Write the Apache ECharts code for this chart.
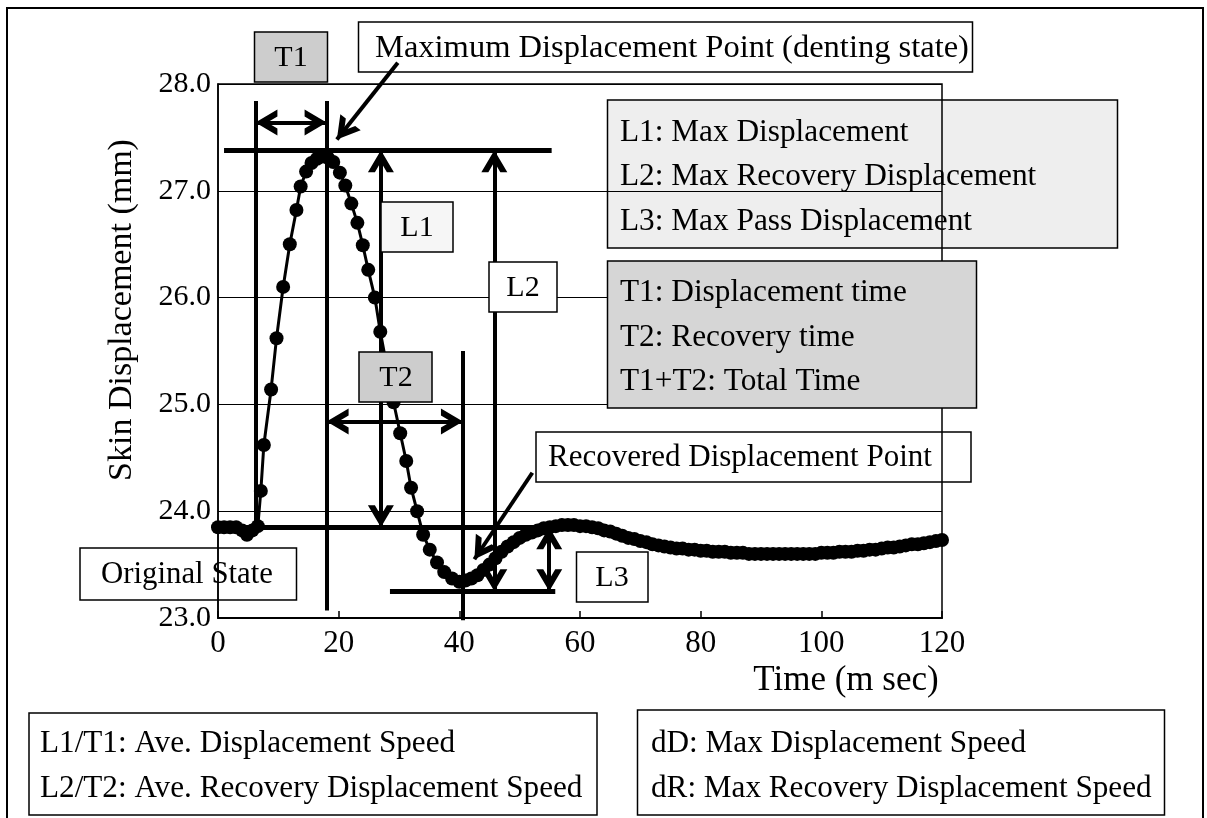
<!DOCTYPE html>
<html>
<head>
<meta charset="utf-8">
<script src="https://cdn.jsdelivr.net/npm/echarts@6/dist/echarts.min.js"></script>
<style>
html,body{margin:0;padding:0;background:#fff;}
#chart{width:1207px;height:818px;}
</style>
</head>
<body>
<div id="chart"></div>
<script>
// ---- data ----
const timeMs = [0, 1, 2, 3, 4, 4.8, 5.7, 6.6, 7.1, 7.6, 8.8, 9.7, 10.8, 11.9, 13.0, 13.7, 14.6, 15.5, 16.4, 17.3, 18.2,
  19.1, 20.2, 21.1, 22.1, 23.1, 24.0, 24.9, 26.0, 26.9, 28.0, 29.1, 30.2, 31.2, 32.0, 33.0, 34.0, 35.1, 36.3, 37.5, 38.8, 40.0,
  41, 42, 43, 44, 45, 46, 47, 48, 49, 50, 51, 52, 53, 54, 55, 56, 57, 58, 59, 60,
  61, 62, 63, 64, 65, 66, 67, 68, 69, 70, 71, 72, 73, 74, 75, 76, 77, 78, 79, 80,
  81, 82, 83, 84, 85, 86, 87, 88, 89, 90, 91, 92, 93, 94, 95, 96, 97, 98, 99, 100,
  101, 102, 103, 104, 105, 106, 107, 108, 109, 110, 111, 112, 113, 114, 115, 116, 117, 118, 119, 120];
const dispMm = [23.85, 23.85, 23.85, 23.85, 23.82, 23.78, 23.82, 23.86, 24.19, 24.62, 25.14, 25.62, 26.10, 26.50, 26.82, 27.04, 27.18, 27.26, 27.30, 27.32, 27.31,
  27.27, 27.17, 27.05, 26.88, 26.70, 26.49, 26.26, 26.00, 25.68, 25.35, 25.02, 24.73, 24.47, 24.22, 24.00, 23.78, 23.64, 23.52, 23.43, 23.37, 23.34,
  23.35, 23.37, 23.40, 23.45, 23.50, 23.56, 23.62, 23.67, 23.71, 23.75, 23.78, 23.80, 23.82, 23.84, 23.85, 23.86, 23.87, 23.87, 23.87, 23.86,
  23.86, 23.85, 23.84, 23.82, 23.81, 23.79, 23.77, 23.75, 23.74, 23.72, 23.71, 23.69, 23.68, 23.67, 23.66, 23.65, 23.65, 23.64, 23.64, 23.63,
  23.63, 23.62, 23.62, 23.62, 23.61, 23.61, 23.61, 23.60, 23.60, 23.60, 23.60, 23.60, 23.60, 23.60, 23.60, 23.60, 23.60, 23.60, 23.60, 23.61,
  23.61, 23.61, 23.62, 23.62, 23.62, 23.63, 23.63, 23.64, 23.64, 23.65, 23.66, 23.66, 23.67, 23.68, 23.69, 23.69, 23.70, 23.71, 23.72, 23.73];

const xTicks = [0, 20, 40, 60, 80, 100, 120];
const yTicks = [23, 24, 25, 26, 27, 28];

// annotation levels (mm) and times (ms)
const maxLevel = 27.38, baseLevel = 23.85, passLevel = 23.25;
const tStart = 6.2, tPeak = 18.0, tRecover = 40.6;
const l1Time = 27.0, l2Time = 45.8, l3Time = 54.9;
const t1ArrowLevel = 27.64, t2ArrowLevel = 24.84;
const markerTop = 27.84, peakLineBottom = 23.07, recoverLineTop = 25.5, recoverLineBottom = 22.98;
const maxLineSpan = [1.0, 55.3], baseLineSpan = [0, 55.5], passLineSpan = [28.5, 55.9];
const maxPointer = [[29.8, 28.2], [19.7, 27.48]];
const recoverPointer = [[52.1, 24.36], [42.5, 23.55]];

// ---- build ----
const FONT = '"Liberation Serif", "Times New Roman", Times, serif';
const chevron = 'path://M13,-22L13,-22M0,22L13,0L26,22L19,22L13,11.8L7,22Z';
const AS = [26, 44];
function seg(a, b, w, arrows) {
  const s = arrows || ['none', 'none'];
  return {
    coords: [a, b],
    symbol: [s[0] === 'a' ? chevron : 'none', s[1] === 'a' ? chevron : 'none'],
    symbolSize: [AS, AS],
    lineStyle: { width: w, color: '#000', opacity: 1 }
  };
}
const annoLines = [
  seg([maxLineSpan[0], maxLevel], [maxLineSpan[1], maxLevel], 5),
  seg([baseLineSpan[0], baseLevel], [baseLineSpan[1], baseLevel], 5),
  seg([passLineSpan[0], passLevel], [passLineSpan[1], passLevel], 5),
  seg([tStart, markerTop], [tStart, baseLevel], 4),
  seg([tPeak, markerTop], [tPeak, peakLineBottom], 4),
  seg([tRecover, recoverLineTop], [tRecover, recoverLineBottom], 4),
  seg([tStart, t1ArrowLevel], [tPeak, t1ArrowLevel], 4, ['a', 'a']),
  seg([tPeak, t2ArrowLevel], [tRecover, t2ArrowLevel], 4, ['a', 'a']),
  seg([l1Time, maxLevel], [l1Time, baseLevel], 4, ['a', 'a']),
  seg([l2Time, maxLevel], [l2Time, passLevel], 4, ['a', 'a']),
  seg([l3Time, baseLevel], [l3Time, passLevel], 4, ['a', 'a']),
  seg(maxPointer[0], maxPointer[1], 4, ['n', 'a']),
  seg(recoverPointer[0], recoverPointer[1], 4, ['n', 'a'])
];

function box(x, y, w, h, fill, z) {
  return { type: 'rect', z: z, shape: { x: x, y: y, width: w, height: h },
    style: { fill: fill, stroke: '#000', lineWidth: 1.5 } };
}
function txt(x, y, s, align, size, z, rot) {
  const el = { type: 'text', z: z, x: x, y: y,
    style: { text: s, fill: '#000', fontFamily: FONT, fontSize: size || 31, align: align || 'left', verticalAlign: 'middle' } };
  if (rot) el.rotation = rot;
  return el;
}

const graphics = [
  { type: 'rect', z: -5, shape: { x: 7, y: 8, width: 1196, height: 812 }, style: { fill: 'none', stroke: '#000', lineWidth: 2 } },
  // y axis title
  txt(122, 310, 'Skin Displacement (mm)', 'center', 34, 5, Math.PI / 2),
  // T1 box
  box(254.5, 32, 73, 50, '#cdcdcd', 100), txt(291, 58, 'T1', 'center', 30, 101),
  // Max displacement box
  box(358.5, 22, 614, 50, '#fff', -1), txt(375, 48, 'Maximum Displacement Point (denting state)', 'left', 32.5, -1),
  // L legend box (under gridlines)
  box(607.5, 100, 510, 148, '#eeeeee', -1),
  txt(620, 133, 'L1: Max Displacement', 'left', 31.3, -1),
  txt(620, 177, 'L2: Max Recovery Displacement', 'left', 31.3, -1),
  txt(620, 222, 'L3: Max Pass Displacement', 'left', 31.3, -1),
  // T legend box (over border)
  box(607.5, 261, 369, 147, '#d6d6d6', 100),
  txt(620, 293, 'T1: Displacement time', 'left', 31.3, 101),
  txt(620, 338, 'T2: Recovery time', 'left', 31.3, 101),
  txt(620, 382, 'T1+T2: Total Time', 'left', 31.3, 101),
  // L1, L2, T2 boxes
  box(381, 202, 72, 50, '#f6f6f6', 100), txt(417, 228, 'L1', 'center', 30, 101),
  box(489, 262, 68, 50, '#fff', 100), txt(523, 288, 'L2', 'center', 30, 101),
  box(359, 352, 73, 50, '#cdcdcd', 100), txt(396, 378, 'T2', 'center', 30, 101),
  // Recovered point box
  box(536, 432, 435, 50, '#fff', -1), txt(548, 458, 'Recovered Displacement Point', 'left', 31, -1),
  // L3 box
  box(576.5, 552, 71.5, 50, '#fff', -1), txt(612, 578, 'L3', 'center', 30, -1),
  // Original state box
  box(80, 548, 216.5, 52, '#fff', -1), txt(187, 575, 'Original State', 'center', 30.8, -1),
  // x axis title
  txt(846, 681, 'Time (m sec)', 'center', 35, 5),
  // bottom boxes
  box(29, 713, 568, 102, '#fff', 5),
  txt(40, 744, 'L1/T1: Ave. Displacement Speed', 'left', 31.2, 6),
  txt(40, 789, 'L2/T2: Ave. Recovery Displacement Speed', 'left', 31.2, 6),
  box(637.5, 710, 527, 105, '#fff', 5),
  txt(651, 744, 'dD: Max Displacement Speed', 'left', 31.2, 6),
  txt(651, 789, 'dR: Max Recovery Displacement Speed', 'left', 31.2, 6)
];

const chart = echarts.init(document.getElementById('chart'), null, { renderer: 'canvas' });
chart.setOption({
  backgroundColor: '#fff',
  animation: false,
  grid: { left: 218, right: 265, top: 84, bottom: 200, show: true, borderColor: '#000', borderWidth: 1.5, z: 2 },
  xAxis: {
    type: 'value', min: xTicks[0], max: xTicks[xTicks.length - 1], interval: xTicks[1] - xTicks[0], z: 2,
    axisLine: { show: true, lineStyle: { color: '#000', width: 2 } },
    axisTick: { show: true, inside: true, length: 7, lineStyle: { color: '#000', width: 1.5 } },
    splitLine: { show: false },
    axisLabel: { color: '#000', fontFamily: FONT, fontSize: 31, margin: 10 }
  },
  yAxis: {
    type: 'value', min: yTicks[0], max: yTicks[yTicks.length - 1], interval: yTicks[1] - yTicks[0], z: 2,
    axisLine: { show: true, lineStyle: { color: '#000', width: 1.5 } },
    axisTick: { show: false },
    splitLine: { show: true, lineStyle: { color: '#000', width: 1.2 } },
    axisLabel: { color: '#000', fontFamily: FONT, fontSize: 30, margin: 7, formatter: v => v.toFixed(1) }
  },
  graphic: graphics,
  series: [
    {
      type: 'lines', coordinateSystem: 'cartesian2d', clip: false, z: 3, silent: true,
      lineStyle: { color: '#000', width: 4, opacity: 1, curveness: 0 },
      data: annoLines
    },
    {
      type: 'line', z: 4, clip: false, silent: true,
      data: timeMs.map((t, i) => [t, dispMm[i]]),
      symbol: 'circle', symbolSize: 14, showAllSymbol: true,
      itemStyle: { color: '#000' },
      lineStyle: { color: '#000', width: 3 }
    }
  ]
});
</script>
</body>
</html>
